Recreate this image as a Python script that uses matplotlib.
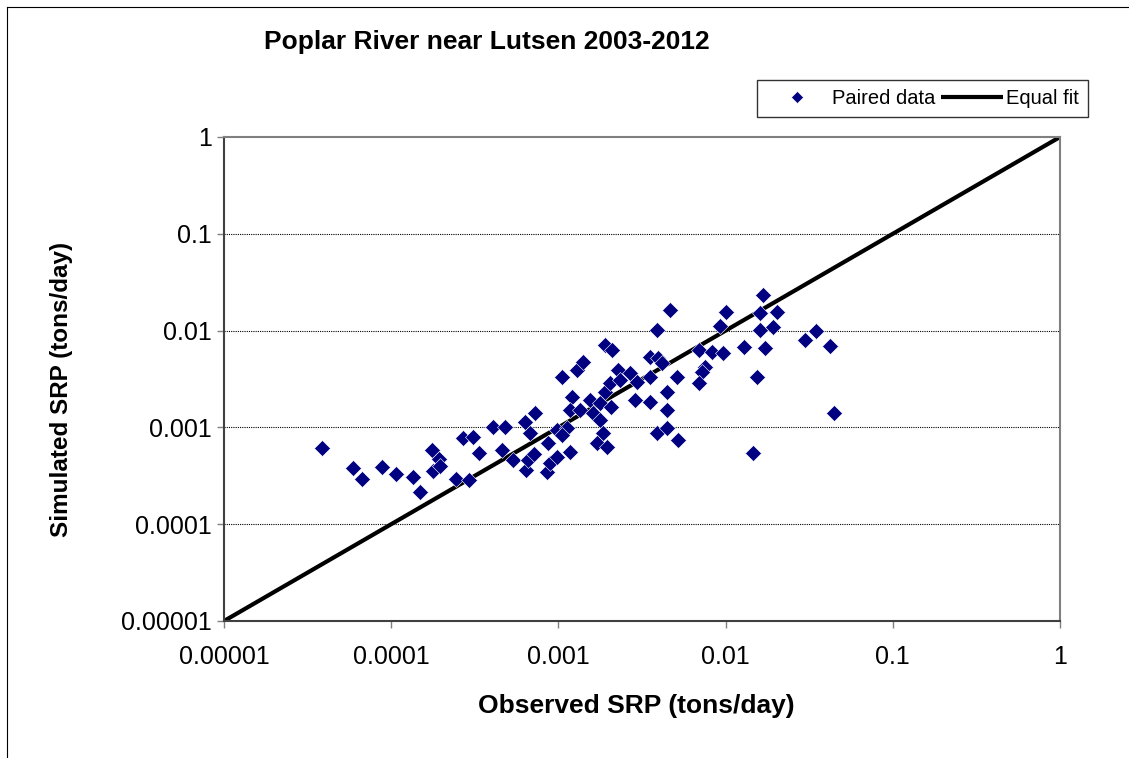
import matplotlib
matplotlib.use("Agg")
import matplotlib.pyplot as plt
from matplotlib.lines import Line2D

plt.rcParams['font.family'] = ['Liberation Sans', 'DejaVu Sans']

title = "Poplar River near Lutsen 2003-2012"
xlabel = "Observed SRP (tons/day)"
ylabel = "Simulated SRP (tons/day)"
tick_vals = [0.00001, 0.0001, 0.001, 0.01, 0.1, 1]
tick_labels = ["0.00001", "0.0001", "0.001", "0.01", "0.1", "1"]

observed = [
    3.85e-5, 5.9e-5, 6.7e-5, 8.8e-5, 1.07e-4, 1.35e-4, 1.49e-4, 1.75e-4, 1.93e-4, 1.78e-4,
    1.96e-4, 2.44e-4, 2.92e-4, 2.69e-4, 3.08e-4, 3.35e-4, 4.06e-4, 4.8e-4, 4.6e-4, 5.35e-4,
    6.4e-4, 6.58e-4, 7.14e-4, 6.76e-4, 6.3e-4, 7.24e-4, 8.67e-4, 9.8e-4, 1.12e-3, 1.05e-3,
    8.55e-4, 8.9e-4, 9.8e-4, 1.17e-3, 1.05e-3, 1.29e-3, 1.40e-3, 1.21e-3, 1.17e-3, 1.35e-3,
    1.55e-3, 1.61e-3, 1.77e-3, 1.77e-3, 1.90e-3, 2.07e-3, 2.04e-3, 1.85e-3, 1.70e-3, 1.95e-3,
    1.90e-3, 2.09e-3, 2.27e-3, 2.33e-3, 2.68e-3, 2.95e-3, 2.87e-3, 3.53e-3, 3.94e-3, 4.17e-3,
    3.53e-3, 3.53e-3, 3.89e-3, 4.47e-3, 5.19e-3, 3.89e-3, 4.47e-3, 4.47e-3, 5.12e-3, 4.65e-3,
    6.93e-3, 8.3e-3, 9.64e-3, 7.53e-3, 7.23e-3, 6.93e-3, 9.27e-3, 1.0e-2, 1.29e-2, 1.54e-2,
    1.46e-2, 1.68e-2, 1.61e-2, 2.03e-2, 1.61e-2, 1.92e-2, 1.72e-2, 2.99e-2, 3.48e-2, 4.2e-2,
    4.45e-2,
]
simulated = [
    6.12e-4, 3.81e-4, 2.93e-4, 3.9e-4, 3.3e-4, 3.08e-4, 2.15e-4, 5.85e-4, 4.72e-4, 3.55e-4,
    3.99e-4, 2.93e-4, 2.87e-4, 7.76e-4, 7.96e-4, 5.45e-4, 1.01e-3, 1.01e-3, 5.85e-4, 4.6e-4,
    3.63e-4, 4.6e-4, 5.31e-4, 8.75e-4, 1.14e-3, 1.41e-3, 6.9e-4, 9.4e-4, 9.86e-4, 8.33e-4,
    3.46e-4, 4.29e-4, 4.94e-4, 5.57e-4, 3.32e-3, 3.92e-3, 4.74e-3, 2.06e-3, 1.51e-3, 1.51e-3,
    1.92e-3, 1.41e-3, 1.19e-3, 1.79e-3, 2.32e-3, 1.63e-3, 2.88e-3, 8.75e-4, 6.9e-4, 6.28e-4,
    7.1e-3, 6.3e-3, 3.92e-3, 3.09e-3, 3.65e-3, 2.94e-3, 1.92e-3, 5.33e-3, 5.21e-3, 4.62e-3,
    3.32e-3, 1.83e-3, 8.75e-4, 9.86e-4, 7.41e-4, 1.01e-2, 2.32e-3, 1.51e-3, 3.32e-3, 1.63e-2,
    6.3e-3, 6.0e-3, 5.88e-3, 4.2e-3, 3.73e-3, 2.88e-3, 1.12e-2, 1.56e-2, 6.78e-3, 3.32e-3,
    5.45e-4, 2.33e-2, 1.52e-2, 1.56e-2, 1.01e-2, 1.09e-2, 6.6e-3, 8.0e-3, 9.9e-3, 6.93e-3,
    1.41e-3,
]
fit_x = [0.00001, 1]
fit_y = [0.00001, 1]

W, H = 1129, 758
fig = plt.figure(figsize=(W / 100, H / 100), dpi=100)
fig.patch.set_facecolor('white')

ax = fig.add_axes([224 / W, 1 - 621 / H, (1060 - 224) / W, (621 - 137) / H])
ax.set_xscale('log')
ax.set_yscale('log')
ax.set_xlim(1e-5, 1)
ax.set_ylim(1e-5, 1)

for v in tick_vals[1:-1]:
    ax.axhline(v, color='black', lw=0.8, ls=(0, (1, 1)), zorder=1)

fit_line, = ax.plot(fit_x, fit_y, color='black', lw=3, zorder=2, label='Equal fit',
                    solid_capstyle='butt')
pts, = ax.plot(observed, simulated, ls='none', marker='D', ms=8.4, color='#000080',
               markeredgecolor='white', markeredgewidth=0.4, zorder=3, label='Paired data')

ax.set_xticks(tick_vals)
ax.set_xticklabels(tick_labels)
ax.set_yticks(tick_vals)
ax.set_yticklabels(tick_labels)
ax.minorticks_off()
ax.tick_params(axis='both', which='major', direction='out', length=5, width=1,
               color='#808080', labelsize=18)
ax.tick_params(axis='x', pad=12)
ax.tick_params(axis='y', pad=4)

for side in ['top', 'right']:
    ax.spines[side].set_color('#808080')
    ax.spines[side].set_linewidth(1.5)
for side in ['left', 'bottom']:
    ax.spines[side].set_color('#404040')
    ax.spines[side].set_linewidth(1.5)

fig.text(487 / W, 1 - 42 / H, title, ha='center', va='center', fontsize=19,
         fontweight='bold')
fig.text(636 / W, 1 - 706 / H, xlabel, ha='center', va='center', fontsize=19,
         fontweight='bold')
fig.text(62 / W, 1 - 389 / H, ylabel, ha='center', va='center', fontsize=17.5,
         fontweight='bold', rotation=90)

leg = fig.legend(handles=[pts, fit_line], labels=['Paired data', 'Equal fit'],
                 loc='upper left', bbox_to_anchor=(757 / W, 1 - 80 / H), ncol=2,
                 fontsize=14.5, frameon=True, fancybox=False, borderaxespad=0,
                 handlelength=3.1, handletextpad=0.15, columnspacing=0.3,
                 borderpad=0.45, markerscale=0.75)
leg.get_frame().set_edgecolor('black')
leg.get_frame().set_linewidth(1.0)

fig.add_artist(Line2D([7 / W, 1], [1 - 7 / H, 1 - 7 / H], color='black', lw=0.8))
fig.add_artist(Line2D([7 / W, 7 / W], [0, 1 - 7 / H], color='black', lw=0.8))

fig.savefig('out.png', dpi=100)
